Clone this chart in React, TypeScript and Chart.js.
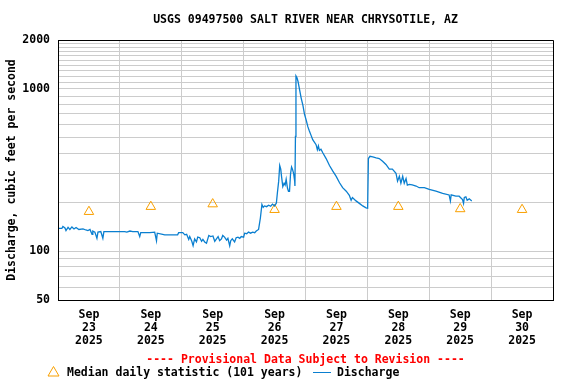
import React, { useEffect, useRef } from 'react';
import { Chart, registerables } from 'chart.js';

Chart.register(...registerables);

const TITLE = 'USGS 09497500 SALT RIVER NEAR CHRYSOTILE, AZ';
const Y_TITLE = 'Discharge, cubic feet per second';
const FOOTER = '---- Provisional Data Subject to Revision ----';
const MEDIAN_LABEL = 'Median daily statistic (101 years)';
const DISCHARGE_LABEL = 'Discharge';
const MONTH = 'Sep';
const YEAR = '2025';
const DAYS = ['23', '24', '25', '26', '27', '28', '29', '30'];
// x axis in hours since Sep 23 00:00
const X_TICK_HOURS = [0, 12, 24, 36, 48, 60, 72, 84, 96, 108, 120, 132, 144, 156, 168, 180, 192];
const Y_TICKS = [50, 60, 70, 80, 90, 100, 200, 300, 400, 500, 600, 700, 800, 900, 1000,
  1100, 1200, 1300, 1400, 1500, 1600, 1700, 1800, 1900, 2000];
const Y_LABELED = [50, 100, 1000, 2000];

const MEDIAN_HOURS = [12, 36, 60, 84, 108, 132, 156, 180];
const MEDIAN_VALUES = [175, 188, 195, 180, 188, 188, 182, 180];

const DISCHARGE_HOURS = [
  0.0, 1.5, 1.9, 2.7, 3.1, 3.9, 4.6, 5.4, 6.2, 7.0, 8.1, 9.7, 10.8, 11.6, 12.4, 13.2, 13.5, 14.3, 15.1, 15.5,
  16.6, 17.4, 17.8, 25.9, 26.7, 27.9, 29.0, 31.0, 31.7, 32.1, 35.6, 37.5, 38.2, 38.5, 40.6, 41.4, 46.4, 46.8,
  48.4, 49.2, 49.9, 50.7, 51.1, 51.9, 52.4, 53.0, 53.7, 54.2, 55.0, 55.7, 56.2, 56.9, 57.6, 58.1, 58.5, 59.2,
  60.1, 60.8, 61.6, 62.1, 62.7, 63.4, 63.9, 64.6, 65.4, 65.9, 66.6, 67.0, 67.6, 68.5, 69.1, 69.8, 70.5, 71.1,
  72.0, 72.4, 73.2, 73.9, 74.7, 75.5, 76.3, 76.9, 77.8, 78.5, 79.1, 79.6, 80.1, 80.9, 81.7, 82.5, 83.2, 84.0,
  84.7, 85.1, 85.6, 86.0, 86.4, 86.7, 87.2, 87.7, 88.1, 88.5, 89.0, 89.4, 89.8, 90.2, 90.6, 91.0, 91.4, 91.8,
  91.9, 92.1, 92.3, 92.7, 93.1, 93.7, 94.3, 95.0, 95.6, 96.3, 96.9, 97.5, 98.2, 98.8, 100.1, 100.6, 101.0,
  101.4, 102.0, 102.7, 104.0, 105.3, 106.6, 107.9, 109.2, 110.4, 111.8, 113.0, 113.7, 114.2, 115.6, 116.9,
  118.2, 119.5, 120.1, 120.4, 121.0, 122.1, 123.4, 124.6, 125.9, 127.2, 128.5, 129.7, 131.1, 131.7, 132.4,
  133.0, 133.7, 134.3, 135.0, 135.5, 136.3, 137.4, 138.9, 140.1, 142.1, 144.0, 146.6, 149.2, 151.7, 152.2,
  152.5, 154.3, 155.6, 156.9, 157.3, 157.6, 158.2, 158.7, 159.5, 160.5,
];
const DISCHARGE_CFS = [
  138, 138, 142, 139, 134, 140, 136, 141, 137, 140, 136, 137, 135, 134, 136, 127, 133, 131, 120, 131,
  132, 120, 132, 132, 131, 133, 132, 132, 123, 130, 130, 131, 116, 129, 127, 126, 126, 130,
  130, 126, 127, 118, 123, 115, 108, 119, 114, 122, 121, 115, 118, 114, 112, 119, 125, 123,
  124, 115, 120, 123, 116, 119, 125, 122, 117, 120, 108, 116, 119, 114, 121, 122, 120, 123,
  122, 129, 128, 131, 129, 131, 130, 133, 136, 160, 194, 186, 190, 188, 192, 189, 195, 190,
  198, 229, 270, 337, 320, 289, 250, 262, 255, 277, 245, 234, 234, 300, 330, 318, 300, 270,
  252, 510, 1200, 1170, 1110, 990, 880, 790, 700, 640, 585, 550, 515, 486, 453, 422, 445,
  418, 425, 404, 372, 337, 311, 289, 264, 246, 234, 221, 206, 214, 204, 197,
  190, 185, 184, 372, 384, 381, 376, 372, 358, 342, 320, 320, 302, 270, 289,
  262, 289, 262, 280, 255, 258, 256, 252, 246, 246, 240, 234, 227, 222, 204,
  222, 218, 218, 208, 197, 214, 216, 206, 210, 204,
];

const FONT_FAMILY = "'DejaVu Sans Mono', monospace";
const FONT_SIZE = 11.5;
const BLUE = '#0a7fd0';
const ORANGE = '#f9a000';
const GRID = '#cccccc';

const alignPx = (p: number) => Math.round(p - 0.5) + 0.5;

const decoPlugin = {
  id: 'deco',
  afterDraw(chart: any) {
    const { ctx, chartArea: a } = chart;
    const font = `bold ${FONT_SIZE}px ${FONT_FAMILY}`;
    ctx.save();
    // frame (top & right edges; left & bottom by axes)
    ctx.strokeStyle = '#000';
    ctx.lineWidth = 1;
    ctx.beginPath();
    ctx.moveTo(alignPx(a.left), alignPx(a.top));
    ctx.lineTo(alignPx(a.right), alignPx(a.top));
    ctx.lineTo(alignPx(a.right), alignPx(a.bottom));
    ctx.lineTo(alignPx(a.left), alignPx(a.bottom));
    ctx.closePath();
    ctx.stroke();

    ctx.font = font;
    ctx.textBaseline = 'middle';
    // title
    ctx.fillStyle = '#000';
    ctx.textAlign = 'center';
    ctx.fillText(TITLE, (a.left + a.right) / 2, 20);
    // footer
    ctx.fillStyle = '#ff0000';
    ctx.fillText(FOOTER, (a.left + a.right) / 2, 360);
    // legend
    const ly = 373;
    ctx.textAlign = 'left';
    ctx.strokeStyle = ORANGE;
    ctx.beginPath();
    ctx.moveTo(53.5, ly - 6.5);
    ctx.lineTo(59, ly + 3);
    ctx.lineTo(48, ly + 3);
    ctx.closePath();
    ctx.stroke();
    ctx.fillStyle = '#000';
    ctx.fillText(MEDIAN_LABEL, 67, ly);
    ctx.strokeStyle = BLUE;
    ctx.beginPath();
    ctx.moveTo(313, ly - 0.5);
    ctx.lineTo(331, ly - 0.5);
    ctx.stroke();
    ctx.fillText(DISCHARGE_LABEL, 337, ly);
    ctx.restore();
  },
};

export default function App() {
  const ref = useRef<HTMLCanvasElement | null>(null);

  useEffect(() => {
    if (!ref.current) return;
    const tickFont = { family: FONT_FAMILY, size: FONT_SIZE, weight: 'bold' as const, lineHeight: 1.13 };
    const chart = new Chart(ref.current, {
      type: 'line',
      data: {
        datasets: [
          {
            label: DISCHARGE_LABEL,
            data: DISCHARGE_HOURS.map((h, i) => ({ x: h, y: DISCHARGE_CFS[i] })),
            borderColor: BLUE,
            borderWidth: 1.3,
            pointRadius: 0,
            fill: false,
            tension: 0,
            order: 0,
          },
          {
            label: MEDIAN_LABEL,
            data: MEDIAN_HOURS.map((h, i) => ({ x: h, y: MEDIAN_VALUES[i] })),
            showLine: false,
            pointStyle: 'triangle',
            pointRadius: 5.5,
            pointBorderWidth: 1,
            pointBorderColor: ORANGE,
            pointBackgroundColor: 'rgba(0,0,0,0)',
            borderColor: ORANGE,
            backgroundColor: 'rgba(0,0,0,0)',
            order: 1,
          },
        ],
      },
      options: {
        animation: false,
        responsive: false,
        devicePixelRatio: 1,
        layout: { padding: { top: 40, right: 23, bottom: 0, left: 0 } },
        plugins: {
          legend: { display: false },
          title: { display: false },
          tooltip: { enabled: false },
        },
        scales: {
          x: {
            type: 'linear',
            min: 0,
            max: 192,
            afterBuildTicks: (s: any) => {
              s.ticks = X_TICK_HOURS.map((v) => ({ value: v }));
            },
            afterFit: (s: any) => {
              s.height = 84;
            },
            grid: {
              color: (c: any) => (c.tick && c.tick.value % 24 === 0 ? GRID : 'rgba(0,0,0,0)'),
              drawTicks: false,
              lineWidth: 1,
            },
            border: { color: '#000', width: 1 },
            ticks: {
              autoSkip: false,
              maxRotation: 0,
              padding: 9,
              color: '#000',
              font: tickFont,
              callback: (v: any) => {
                const n = Number(v);
                if (n % 24 !== 12) return '';
                return [MONTH, DAYS[Math.floor(n / 24)], YEAR];
              },
            },
          },
          y: {
            type: 'logarithmic',
            min: 50,
            max: 2000,
            afterBuildTicks: (s: any) => {
              s.ticks = Y_TICKS.map((v) => ({ value: v }));
            },
            afterFit: (s: any) => {
              s.width = 58;
            },
            grid: { color: GRID, drawTicks: false, lineWidth: 1 },
            border: { color: '#000', width: 1 },
            ticks: {
              autoSkip: false,
              padding: 8,
              color: '#000',
              font: tickFont,
              callback: (v: any) => (Y_LABELED.includes(Number(v)) ? String(v) : ''),
            },
            title: {
              display: true,
              text: Y_TITLE,
              color: '#000',
              font: { family: FONT_FAMILY, size: FONT_SIZE, weight: 'bold', lineHeight: 1.2 },
              padding: { top: 5, bottom: 0 },
            },
          },
        },
      },
      plugins: [decoPlugin],
    });
    return () => chart.destroy();
  }, []);

  return (
    <div style={{ position: 'absolute', left: 0, top: 0, width: 576, height: 384, background: '#fff' }}>
      <canvas ref={ref} width={576} height={384} style={{ width: 576, height: 384 }} />
    </div>
  );
}
